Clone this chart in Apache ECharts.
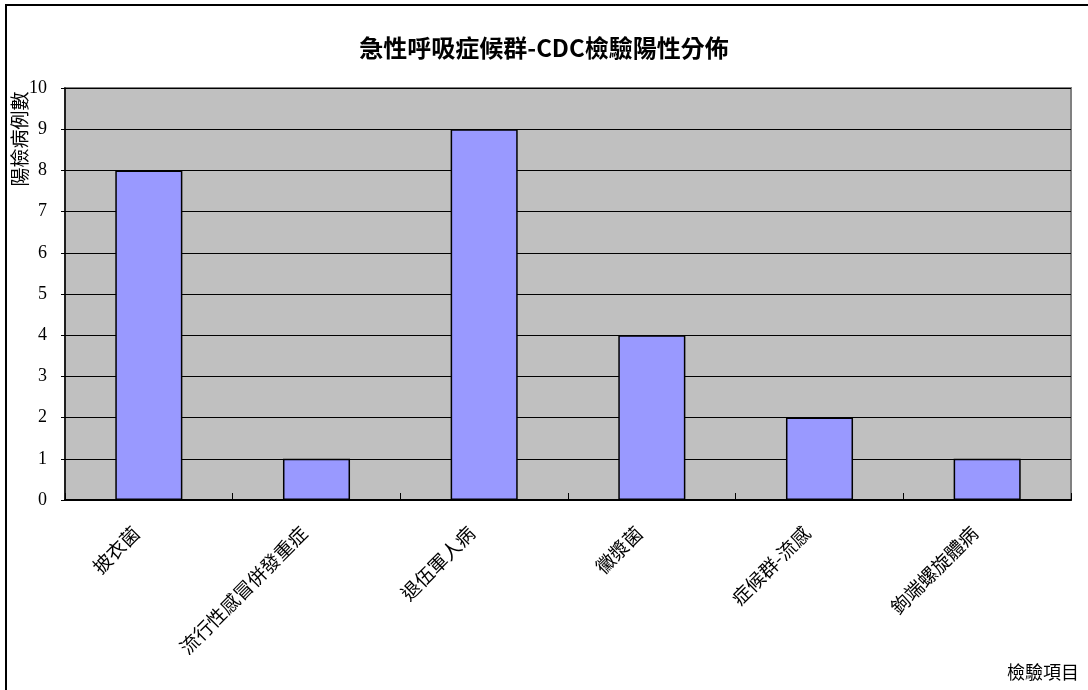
<!DOCTYPE html>
<html>
<head>
<meta charset="utf-8">
<script src="https://cdn.jsdelivr.net/npm/echarts@6/dist/echarts.min.js"></script>
<style>
  html, body { margin: 0; padding: 0; background: #fff; }
  #chart { width: 1088px; height: 690px; }
</style>
</head>
<body>
<div id="chart"></div>
<script>
// Positive CDC test results by test item
var categories = ['披衣菌', '流行性感冒併發重症', '退伍軍人病', '黴漿菌', '症候群-流感', '鉤端螺旋體病'];
var positiveCases = [8, 1, 9, 4, 2, 1];
var yTicks = [0, 1, 2, 3, 4, 5, 6, 7, 8, 9, 10];

var CJK = '"Noto Sans CJK TC", "Noto Sans CJK SC", sans-serif';
var SERIF = '"Liberation Serif", "DejaVu Serif", serif';

var chart = echarts.init(document.getElementById('chart'), null, { renderer: 'canvas' });

chart.setOption({
  backgroundColor: '#ffffff',
  animation: false,
  title: {
    text: '急性呼吸症候群-CDC檢驗陽性分佈',
    left: 'center',
    top: 31,
    textStyle: { fontFamily: CJK, fontSize: 24, fontWeight: 'bold', color: '#000' }
  },
  grid: {
    left: 65, right: 17, top: 88, bottom: 190,
    show: true,
    backgroundColor: '#C0C0C0',
    borderColor: '#808080',
    borderWidth: 2
  },
  xAxis: {
    type: 'category',
    data: categories,
    axisLine: { lineStyle: { color: '#000', width: 2 } },
    axisTick: { show: true, inside: true, length: 7, alignWithLabel: false, lineStyle: { color: '#000' } },
    axisLabel: {
      rotate: 45, margin: 17, padding: [0, 18, 0, 0],
      fontFamily: CJK, fontSize: 19, color: '#000', interval: 0
    }
  },
  yAxis: {
    type: 'value',
    min: yTicks[0],
    max: yTicks[yTicks.length - 1],
    interval: 1,
    axisLine: { show: true, lineStyle: { color: '#000', width: 1.5 } },
    axisTick: { show: true, length: 4, lineStyle: { color: '#000' } },
    axisLabel: { margin: 18, fontFamily: SERIF, fontSize: 18, color: '#000' },
    splitLine: { show: true, lineStyle: { color: '#000', width: 1 } }
  },
  series: [{
    type: 'bar',
    data: positiveCases,
    barWidth: '40%',
    itemStyle: { color: '#9999FF', borderColor: '#000', borderWidth: 1.5 }
  }],
  graphic: [
    {
      type: 'rect',
      shape: { x: 6, y: 5, width: 1100, height: 700 },
      style: { fill: null, stroke: '#000', lineWidth: 2 },
      silent: true
    },
    {
      type: 'text',
      x: 20, y: 139,
      rotation: Math.PI / 2,
      style: {
        text: '陽檢病例數',
        fontFamily: CJK, fontSize: 19, fill: '#000',
        align: 'center', verticalAlign: 'middle'
      }
    },
    {
      type: 'text',
      x: 1079, y: 672,
      style: {
        text: '檢驗項目',
        fontFamily: CJK, fontSize: 18, fill: '#000',
        align: 'right', verticalAlign: 'middle'
      }
    }
  ]
});
</script>
</body>
</html>
